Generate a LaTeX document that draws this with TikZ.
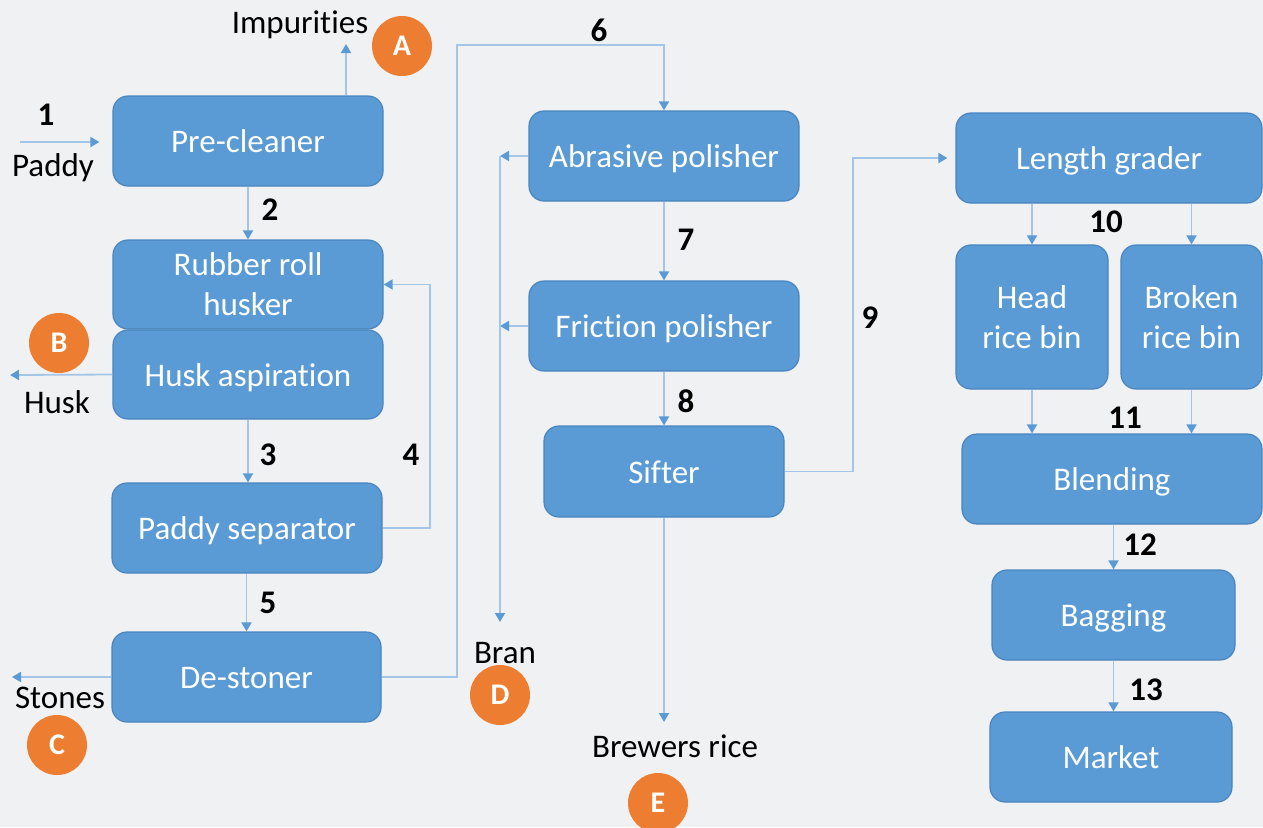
\documentclass[tikz,border=0pt]{standalone}
\usepackage{fontspec}
\setmainfont[RawFeature={-liga;-clig;-dlig;-calt}]{Carlito}
\usetikzlibrary{arrows.meta,calc}
\definecolor{bg}{HTML}{F0F1F3}
\definecolor{boxfill}{HTML}{5B9BD5}
\definecolor{boxline}{HTML}{4A85BF}
\definecolor{lineblue}{HTML}{A3C5E7}
\definecolor{tipblue}{HTML}{5B9BD5}
\definecolor{orng}{HTML}{ED7D31}
\tikzset{
  proc/.style={draw=boxline, line width=0.6pt, fill=boxfill, rounded corners=7.5pt,
    text=white, align=center, inner sep=0pt,
    font=\fontsize{16.5}{20}\selectfont},
  oneline/.style={text height=13.5pt, text depth=2pt},
  arr/.style={draw=lineblue, line width=0.9pt,
    -{Triangle[length=4.5pt,width=5pt,color=tipblue]}},
  lbl/.style={font=\fontsize{16.5}{20}\selectfont, text=black, inner sep=0pt},
  num/.style={font=\fontsize{16.5}{20}\selectfont\bfseries, text=black, inner sep=0pt},
  badge/.style={circle, fill=orng, minimum size=30pt, inner sep=0pt, text=white,
    font=\fontsize{15}{17}\selectfont\bfseries},
}
\begin{document}
\begin{tikzpicture}[x=0.5pt,y=-0.5pt]
\fill[bg] (0,0) rectangle (1263,827);
\useasboundingbox (0,0) rectangle (1263,827);

% boxes
\node[proc, oneline, minimum width=135pt, minimum height=45pt] (pre) at (248,141) {Pre-cleaner};
\node[proc, minimum width=135pt, minimum height=44.5pt] (rub) at (248,284.5) {Rubber roll\\husker};
\node[proc, oneline, minimum width=135pt, minimum height=44.5pt] (husk) at (248,374.5) {Husk aspiration};
\node[proc, oneline, minimum width=135pt, minimum height=45pt] (sep) at (247,528) {Paddy separator};
\node[proc, oneline, minimum width=134.5pt, minimum height=45pt] (des) at (246.5,677) {De-stoner};
\node[proc, oneline, minimum width=135pt, minimum height=45pt] (abr) at (664,156) {Abrasive polisher};
\node[proc, oneline, minimum width=135pt, minimum height=45pt] (fri) at (664,326) {Friction polisher};
\node[proc, oneline, minimum width=120pt, minimum height=45.5pt] (sif) at (664,471.5) {Sifter};
\node[proc, oneline, minimum width=153pt, minimum height=45pt] (lg) at (1109,158) {Length grader};
\node[proc, minimum width=76pt, minimum height=72pt] (head) at (1032,317) {Head\\rice bin};
\node[proc, minimum width=70.5pt, minimum height=72pt] (brk) at (1191.5,317) {Broken\\rice bin};
\node[proc, oneline, minimum width=150pt, minimum height=45pt] (bl) at (1112,479) {Blending};
\node[proc, oneline, minimum width=121.5pt, minimum height=45pt] (bag) at (1113.5,615) {Bagging};
\node[proc, oneline, minimum width=121pt, minimum height=45pt] (mk) at (1111,757) {Market};

% badges
\node[badge] (bA) at (402,46) {A};
\node[badge] (bB) at (59,343) {B};
\node[badge] (bC) at (57,745) {C};
\node[badge] (bD) at (500,695) {D};
\node[badge] (bE) at (658,803) {E};

% labels
\node[lbl] (timp) at (300,25) {Impurities};
\node[lbl] (tpad) at (53,168) {Paddy};
\node[lbl] (thusk) at (57,402) {Husk};
\node[lbl] (tsto) at (60,698) {Stones};
\node[lbl] (tbran) at (505,653) {Bran};
\node[lbl] (tbrew) at (675,746) {Brewers rice};

% numbers
\node[num] (n1) at (46,115) {1};
\node[num] (n2) at (270,210) {2};
\node[num] (n3) at (268,455) {3};
\node[num] (n4) at (411,455) {4};
\node[num] (n5) at (268,603) {5};
\node[num] (n6) at (599,30) {6};
\node[num] (n7) at (686,240) {7};
\node[num] (n8) at (686,401) {8};
\node[num] (n9) at (870,318) {9};
\node[num] (n10) at (1106,222) {10};
\node[num] (n11) at (1125,418) {11};
\node[num] (n12) at (1140,545) {12};
\node[num] (n13) at (1146,690) {13};

% helper coordinates
\coordinate (pin) at (20,142);
\coordinate (imp) at (346,44);
\coordinate (huskend) at (10,375);
\coordinate (c4) at (430,0);
\coordinate (stoneend) at (12,677);
\coordinate (c6) at (457,45);
\coordinate (bx) at (500,0);
\coordinate (branend) at (500,622);
\coordinate (c9) at (853,0);
\coordinate (brewend) at (664,722);

% connectors
\draw[arr, shorten >=6.5pt] (pin) -- (pin -| pre.west);
\draw[arr] (pre.north -| imp) -- (imp);
\draw[arr] (pre.south) -- (rub.north);
\draw[arr] (husk.west) -- (huskend);
\draw[arr] (husk.south) -- (husk.south |- sep.north);
\draw[arr] (sep.east) -- (sep.east -| c4) -- (rub.east -| c4) -- (rub.east);
\draw[arr] (sep.south -| des.north) -- (des.north);
\draw[arr] (des.west) -- (stoneend);
\draw[arr] (des.east) -- (des.east -| c6) -- (c6) -- (c6 -| abr.north) -- (abr.north);
\draw[arr] (abr.south) -- (fri.north);
\draw[arr] (fri.south) -- (sif.north);
\draw[arr] (abr.west) -- (abr.west -| bx);
\draw[arr] (fri.west) -- (fri.west -| bx);
\draw[arr] (abr.west -| bx) -- (branend);
\draw[arr, shorten >=4pt] (sif.east) -- (sif.east -| c9) -- (lg.west -| c9) -- (lg.west);
\draw[arr] (sif.south) -- (brewend);
\draw[arr] (lg.south -| head.north) -- (head.north);
\draw[arr] (lg.south -| brk.north) -- (brk.north);
\draw[arr] (head.south) -- (head.south |- bl.north);
\draw[arr] (brk.south) -- (brk.south |- bl.north);
\draw[arr] (bl.south -| bag.north) -- (bag.north);
\draw[arr] (bag.south) -- (bag.south |- mk.north);
\end{tikzpicture}
\end{document}
